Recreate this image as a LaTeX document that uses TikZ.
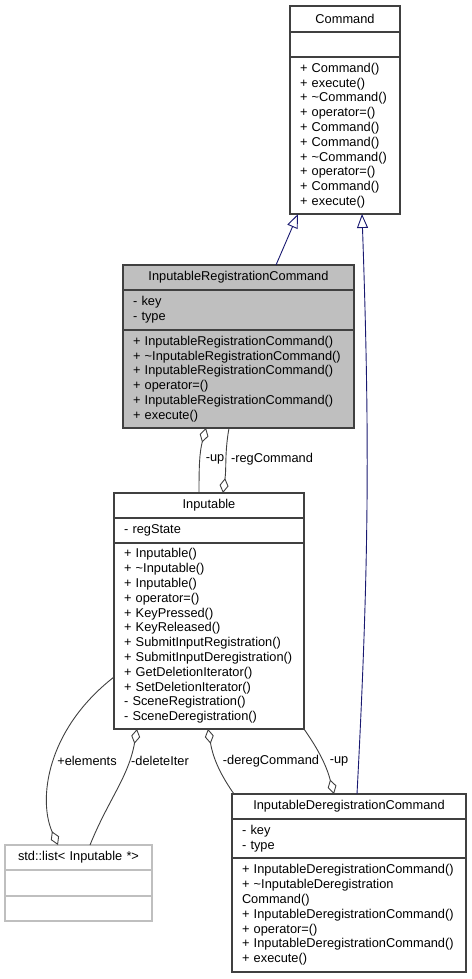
\documentclass[tikz,border=0pt]{standalone}
\usepackage{fontspec}
\setmainfont{Liberation Sans}
\usepackage{tikz}
\usetikzlibrary{positioning}
\usetikzlibrary{arrows.meta}
\definecolor{bordo}{HTML}{404040}
\definecolor{grigio}{HTML}{BFBFBF}
\definecolor{blu}{HTML}{191970}
\tikzstyle{classe} = [rectangle, draw=bordo, line width=1.2pt, fill=white,
inner xsep=10pt, inner ysep=0pt, outer sep=0pt, font=\fontsize{12.8}{14.8}\selectfont]
\tikzstyle{nome} = [classe, align=center, minimum height=25pt]
\tikzstyle{parte} = [classe, align=left]
\tikzstyle{eredita} = [blu, line width=0.9pt, -{Triangle[length=14pt, width=11pt, fill=white]}]
\tikzstyle{aggr} = [bordo, line width=0.9pt]
\tikzstyle{aggrinizio} = [aggr, {Diamond[length=15pt, width=9pt, fill=white]}-]
\tikzstyle{aggrfine} = [aggr, -{Diamond[length=15pt, width=9pt, fill=white]}]
\tikzstyle{etichetta} = [font=\fontsize{12.8}{14.8}\selectfont, inner sep=0pt]

\begin{document}
\begin{tikzpicture}[x=1pt, y=-1pt]
						\useasboundingbox (0,0) rectangle (471,979);
						% Command
						\node (cmd) at (345,6) [nome, anchor=north, text width=90pt, minimum height=26pt] {Command};
						\node (cmd-a) [parte, below=0pt of cmd, text width=90pt, minimum height=25pt] {};
						\node (cmd-m) [parte, below=0pt of cmd-a, text width=90pt, minimum height=157pt]
							{+ Command()\\+ execute()\\+ \textasciitilde Command()\\+ operator=()\\+ Command()\\+ Command()\\+ \textasciitilde Command()\\+ operator=()\\+ Command()\\+ execute()};
						% InputableRegistrationCommand
						\node (irc) at (238.5,265) [nome, anchor=north, fill=grigio, text width=211pt] {InputableRegistrationCommand};
						\node (irc-a) [parte, below=0pt of irc, fill=grigio, text width=211pt, minimum height=40pt] {- key\\- type};
						\node (irc-m) [parte, below=0pt of irc-a, fill=grigio, text width=211pt, minimum height=98pt]
							{+ InputableRegistrationCommand()\\+ \textasciitilde InputableRegistrationCommand()\\+ InputableRegistrationCommand()\\+ operator=()\\+ InputableRegistrationCommand()\\+ execute()};
						% Inputable
						\node (inp) at (209,493) [nome, anchor=north, text width=170pt] {Inputable};
						\node (inp-a) [parte, below=0pt of inp, text width=170pt, minimum height=25pt] {- regState};
						\node (inp-m) [parte, below=0pt of inp-a, text width=170pt, minimum height=186pt]
							{+ Inputable()\\+ \textasciitilde Inputable()\\+ Inputable()\\+ operator=()\\+ KeyPressed()\\+ KeyReleased()\\+ SubmitInputRegistration()\\+ SubmitInputDeregistration()\\+ GetDeletionIterator()\\+ SetDeletionIterator()\\- SceneRegistration()\\- SceneDeregistration()};
						% InputableDeregistrationCommand
						\node (idc) at (349,794) [nome, anchor=north, text width=214pt] {InputableDeregistrationCommand};
						\node (idc-a) [parte, below=0pt of idc, text width=214pt, minimum height=39pt] {- key\\- type};
						\node (idc-m) [parte, below=0pt of idc-a, text width=214pt, minimum height=114pt]
							{+ InputableDeregistrationCommand()\\+ \textasciitilde InputableDeregistration\\Command()\\+ InputableDeregistrationCommand()\\+ operator=()\\+ InputableDeregistrationCommand()\\+ execute()};
						% std::list
						\node (lst) at (78.5,845) [nome, anchor=north, draw=grigio, text width=127pt] {std::list< Inputable *>};
						\node (lst-a) [parte, below=0pt of lst, draw=grigio, text width=127pt, minimum height=26pt] {};
						\node (lst-m) [parte, below=0pt of lst-a, draw=grigio, text width=127pt, minimum height=25pt] {};
						% ereditarietà
						\draw[eredita] ([xshift=37.5pt]irc.north) -- ([xshift=-47pt]cmd-m.south);
						\draw[eredita] ([xshift=8pt]idc.north) to[out=87, in=-88] ([xshift=17pt]cmd-m.south);
						% aggregazioni
						\draw[aggrinizio] ([xshift=-32.5pt]irc-m.south) to[out=-105, in=90] ([xshift=-10pt]inp.north);
						\draw[aggrinizio] ([xshift=14pt]inp.north) to[out=82, in=-100] ([xshift=-9.5pt]irc-m.south);
						\draw[aggrfine] ([yshift=-41pt]inp-m.west) .. controls +(-68,53) and +(-20,-45) .. ([xshift=-20.5pt]lst.north);
						\draw[aggrinizio] ([xshift=-72pt]inp-m.south) to[out=-100, in=68] ([xshift=11.5pt]lst.north);
						\draw[aggrinizio] ([xshift=-1pt]inp-m.south) to[out=-80, in=125] ([xshift=-115pt]idc.north);
						\draw[aggrfine] (inp-m.south east) to[out=-55, in=105] ([xshift=-15pt]idc.north);
						\node (l-up) at (215,459) [etichetta] {-up};
						\node (l-reg) at (272,459) [etichetta] {-regCommand};
						\node (l-el) at (87,761) [etichetta] {+elements};
						\node (l-del) at (160,761) [etichetta] {-deleteIter};
						\node (l-dereg) at (271,761) [etichetta] {-deregCommand};
						\node (l-up2) at (339,761) [etichetta] {-up};
					\end{tikzpicture}
\end{document}
